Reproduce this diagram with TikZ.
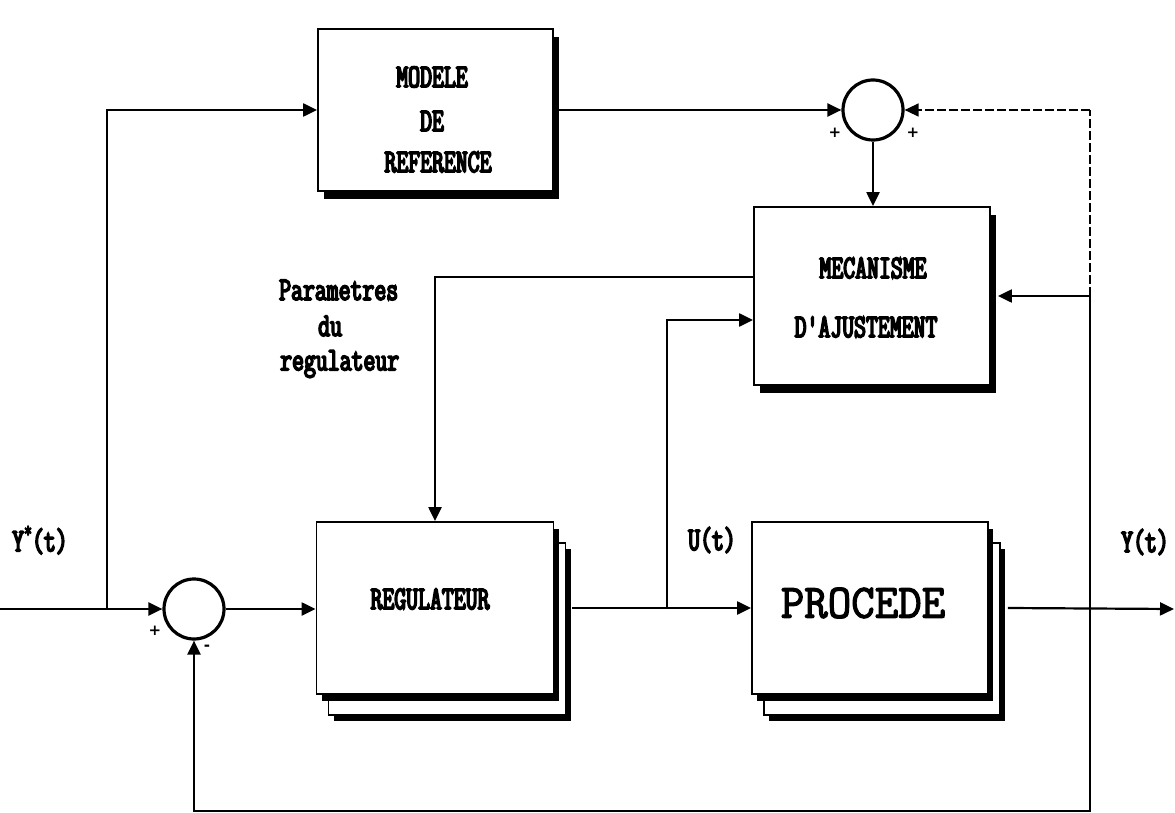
\documentclass[tikz,border=0pt]{standalone}
\usepackage{fontspec}
\usetikzlibrary{arrows.meta,shadows}
\newfontfamily\lblfont{Latin Modern Mono}[FakeStretch=0.7,FakeBold=5]
\newfontfamily\bigfont{Latin Modern Mono}[FakeStretch=0.95,FakeBold=2.5]
\newfontfamily\sgnfont{DejaVu Sans}
\tikzset{
 ln/.style={line width=2.2pt},
 arr/.style={ln, -{Triangle[length=14pt,width=13pt]}},
 sumj/.style={circle, draw, line width=3.2pt, minimum size=60pt, inner sep=0pt},
 sheet/.style={draw, line width=1.8pt, fill=white, inner sep=0pt,
   general shadow={shadow xshift=6pt, shadow yshift=-8pt, fill=black}},
 stack/.style={draw, line width=1.8pt, fill=white, inner sep=0pt,
   general shadow={shadow xshift=17pt, shadow yshift=-27pt, fill=black},
   general shadow={shadow xshift=12pt, shadow yshift=-21pt, fill=white, draw=black, line width=1.8pt},
   general shadow={shadow xshift=5pt, shadow yshift=-7pt, fill=black}},
 lbl/.style={font=\lblfont\fontsize{33}{33}\selectfont, inner sep=0pt},
 big/.style={font=\bigfont\fontsize{48}{48}\selectfont, inner sep=0pt},
 sgn/.style={font=\sgnfont\bfseries\fontsize{15}{15}\selectfont, inner sep=0pt},
}
\begin{document}
\begin{tikzpicture}[x=1pt,y=-1pt]
\useasboundingbox[fill=white] (0,0) rectangle (1175,813);
% blocks
\node[sheet, minimum width=235pt, minimum height=162pt] (mod) at (435.5,110) {};
\node[sheet, minimum width=236pt, minimum height=178pt] (mec) at (872,296) {};
\node[stack, minimum width=237pt, minimum height=172pt] (reg) at (435,608) {};
\node[stack, minimum width=236pt, minimum height=172pt] (proc) at (870,608) {};
\node[sumj] (s1) at (873,110) {};
\node[sumj] (s2) at (194,609) {};
% texts
\node[lbl] (t1) at (432,77) {MODELE};
\node[lbl] (t2) at (432,121) {DE};
\node[lbl] (t3) at (438,162) {REFERENCE};
\node[lbl] (t4) at (873,268) {MECANISME};
\node[lbl] (t5) at (866,327) {D'AJUSTEMENT};
\node[lbl] (t6) at (430,599) {REGULATEUR};
\node[big] (t7) at (863,603) {PROCEDE};
\node[lbl, anchor=west] (t8) at (279,290) {Parametres};
\node[lbl, anchor=west] (t9) at (318,326) {du};
\node[lbl, anchor=west] (t10) at (280,364) {regulateur};
\node[lbl, anchor=west] (t11) at (12,540) {Y\raisebox{14pt}{\fontsize{22}{22}\selectfont *}(t)};
\node[lbl] (t12) at (712,540) {U(t)};
\node[lbl] (t13) at (1145,542) {Y(t)};
\node[sgn] (p1) at (835,133) {+};
\node[sgn] (p2) at (913,133) {+};
\node[sgn] (p3) at (155,631) {+};
\node[sgn] (p4) at (207,648) {-};
% coordinates
\coordinate (in) at (0,609);
\coordinate (j1) at (107,609);
\coordinate (j2) at (667,609);
\coordinate (j3) at (1090,609);
\coordinate (c1) at (1090,811);
\coordinate (c2) at (1090,296);
\coordinate (c3) at (1090,110);
\coordinate (out) at (1174,609);
% connectors
\draw[arr] (in) -- (s2.west);
\draw[arr] (j1) |- (mod.west);
\draw[arr] (s2.east) -- (reg.west |- s2.east);
\draw[arr] ([xshift=18pt]reg.east) -- (proc.west);
\draw[arr] (j2) |- ([yshift=-24pt]mec.west);
\draw[arr] ([yshift=19pt]mec.west) -| (reg.north);
\draw[arr] (mod.east) -- (s1.west);
\draw[arr] (s1.south) -- (mec.north -| s1.south);
\draw[arr] ([xshift=19pt]proc.east) -- (out);
\draw[arr] (j3) -- (c1) -| (s2.south);
\draw[arr] (j3) -- (c2) -- ([xshift=7pt]mec.east);
\draw[line width=1.3pt, dash pattern=on 9pt off 3pt] (c2) -- (c3);
\draw[line width=1.3pt, dash pattern=on 9pt off 3pt, -{Triangle[length=14pt,width=13pt]}] (c3) -- (s1.east);
\end{tikzpicture}
\end{document}
